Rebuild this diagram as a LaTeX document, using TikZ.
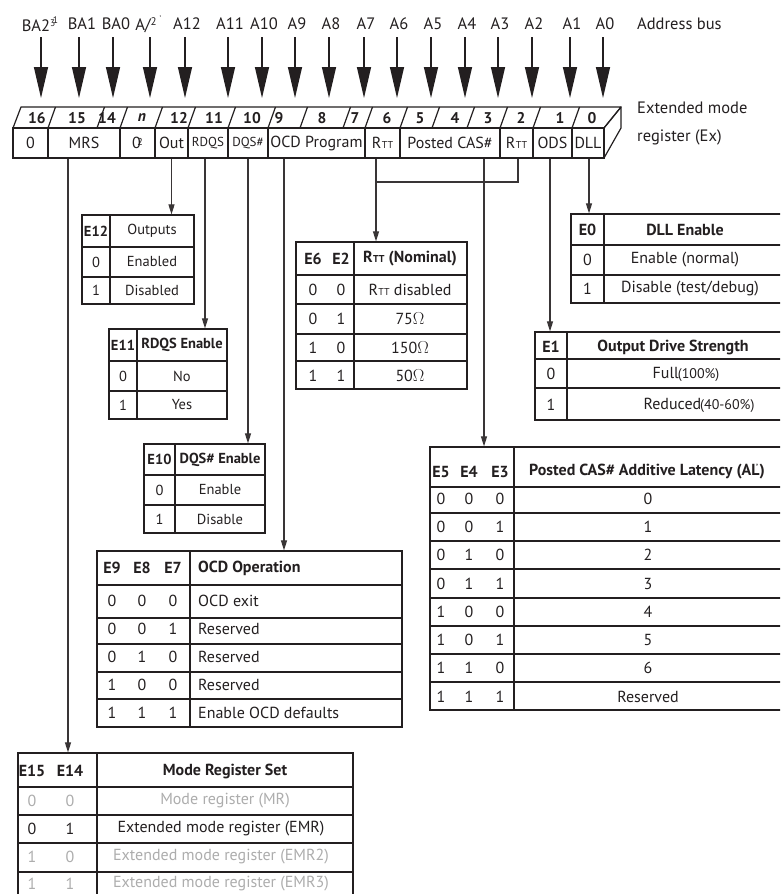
\documentclass[tikz,border=0pt]{standalone}
\usepackage{fontspec}
\setmainfont{PT Sans}
\usetikzlibrary{arrows.meta,fit}
\definecolor{ink}{HTML}{231F20}
\definecolor{pale}{HTML}{ADADAD}
\newcounter{cellno}
\newcommand\fs[1]{\fontsize{#1}{#1}\selectfont}
\newcommand\tx[4][]{\stepcounter{cellno}\node[txt,#1] (cell\arabic{cellno}) at (#2,#3) {#4};}
\newcommand\rtt{R\kern0.3pt{\fs{10}TT}}
\begin{document}
\begin{tikzpicture}[x=1pt,y=-1pt,
 txt/.style={inner sep=0pt, text=ink, anchor=center, font=\fs{14.5}},
 hd/.style={font=\fs{14.5}\bfseries},
 grid/.style={draw=ink, line width=1.1pt},
 tbl/.style={draw=ink, line width=1.2pt, inner sep=0pt},
 bus/.style={draw=ink, line width=1.4pt, -{Triangle[length=31pt,width=14pt]}},
 wire/.style={draw=ink!90, line width=1.1pt},
 feed/.style={wire, -{Triangle[length=10pt,width=6pt]}},
 regline/.style={draw=ink, line width=1.2pt, line join=round},
 reg/.style={draw=ink, line width=1.2pt, minimum height=30pt, inner sep=0pt, anchor=center, text=ink, font=\fs{16}},
 lab/.style={inner sep=0pt, text=ink, font=\fs{16.5}},
 num/.style={inner sep=0pt, text=ink, font=\fs{15.5}\bfseries},
]
\clip (0,0) rectangle (780,894);
\fill[white] (0,0) rectangle (780,894);

% ---------- address bus labels ----------
\coordinate (bustop) at (0,37);
\coordinate (bustip) at (0,98);
\node[lab] (aBA2) at (36,24) {BA2\rlap{\raisebox{5pt}{\fs{9.5}3}\kern-2.5pt\raisebox{8.5pt}{\fs{9.5}1}}};
\node[lab] (aBA1) at (82,24) {BA1};
\node[lab] (aBA0) at (116,24) {BA0};
\node[lab] (aAn) at (143,24) {A/\rlap{\raisebox{5pt}{\fs{11}2}\kern3pt\raisebox{9pt}{\fs{8}'}}};
\node[lab] (aA12) at (187,24) {A12};
\node[lab] (aA11) at (230,24) {A11};
\node[lab] (aA10) at (264,24) {A10};
\node[lab] (aA9) at (297,24) {A9};
\node[lab] (aA8) at (331,24) {A8};
\node[lab] (aA7) at (366,24) {A7};
\node[lab] (aA6) at (399,24) {A6};
\node[lab] (aA5) at (433,24) {A5};
\node[lab] (aA4) at (467,24) {A4};
\node[lab] (aA3) at (500,24) {A3};
\node[lab] (aA2) at (534,24) {A2};
\node[lab] (aA1) at (572,24) {A1};
\node[lab] (aA0) at (605,24) {A0};
\node[lab, anchor=west] (abus) at (637,24) {Address bus};

\draw[bus] ([xshift=5]aBA2 |- bustop) -- ([xshift=5]aBA2 |- bustip);
\draw[bus] ([xshift=-3]aBA1 |- bustop) -- ([xshift=-3]aBA1 |- bustip);
\draw[bus] ([xshift=-3]aBA0 |- bustop) -- ([xshift=-3]aBA0 |- bustip);
\draw[bus] ([xshift=7]aAn |- bustop) -- ([xshift=7]aAn |- bustip);
\foreach \n in {aA12,aA11,aA10,aA9,aA8,aA7,aA6,aA5,aA4,aA3,aA2,aA1,aA0}
  \draw[bus] ([xshift=-2]\n |- bustop) -- ([xshift=-2]\n |- bustip);

% ---------- register (3D box) ----------
\draw[regline] (13,128) -- (21,107) -- (621,107) -- (604,128);
\draw[regline] (604,128) -- (621,107) -- (621,128) -- (604,158);
\foreach \x in {48,97,120,155,188,228,268,300,343,365,400,432,467,500,533,572}
  \draw[regline] (\x,128) -- ++(7.5,-21);
\node[num] (n16) at (37,118) {16};
\node[num] (n15) at (77,118) {15};
\node[num] (n14) at (107,118) {14};
\node[num] (nn) at (142,118) {\itshape n};
\node[num] (n12) at (179,118) {12};
\node[num] (n11) at (214,118) {11};
\node[num] (n10) at (252,118) {10};
\node[num] (n9) at (279,118) {9};
\node[num] (n8) at (322,118) {8};
\node[num] (n7) at (355,118) {7};
\node[num] (n6) at (387,118) {6};
\node[num] (n5) at (420,118) {5};
\node[num] (n4) at (455,118) {4};
\node[num] (n3) at (488,118) {3};
\node[num] (n2) at (521,118) {2};
\node[num] (n1) at (560,118) {1};
\node[num] (n0) at (592,118) {0};

\node[reg, minimum width=35pt] (r16) at (30.5,143) {0};
\node[reg, minimum width=72pt] (rmrs) at (84,143) {MRS};
\node[reg, minimum width=35pt] (rn) at (137.5,143) {0\kern-3.5pt\raisebox{3pt}{\fs{10}2}};
\node[reg, minimum width=33pt] (rout) at (171.5,143) {Out};
\node[reg, minimum width=40pt, font=\fs{13}] (rrdqs) at (208,143) {RDQS};
\node[reg, minimum width=40pt, font=\fs{13}] (rdqs) at (248,143) {DQS\#};
\node[reg, minimum width=97pt] (rocd) at (316.5,143) {OCD Program};
\node[reg, minimum width=35pt] (rrtt6) at (382.5,143) {\rtt};
\node[reg, minimum width=100pt] (rcas) at (450,143) {Posted CAS\#};
\node[reg, minimum width=33pt] (rrtt2) at (516.5,143) {\rtt};
\node[reg, minimum width=39pt] (rods) at (552.5,143) {ODS};
\node[reg, minimum width=32pt] (rdll) at (588,143) {DLL};
\node[lab, anchor=west] (ext1) at (637,108) {Extended mode};
\node[lab, anchor=west] (ext2) at (637,137) {register (Ex)};

% ---------- tables ----------
% E12
\node[tbl, fit={(82,215) (194,304)}] (t12) {};
\draw[grid] (82,247) -- (194,247) (82,277) -- (194,277) (110,215) -- (110,304);
\tx[hd]{96}{231}{E12} \tx{152}{231}{Outputs}
\tx{96}{262}{0} \tx{152}{262}{Enabled}
\tx{96}{290.5}{1} \tx{152}{290.5}{Disabled}

% E11
\node[tbl, fit={(109,329) (227,419)}] (t11) {};
\draw[grid] (109,361) -- (227,361) (109,391) -- (227,391) (137,329) -- (137,419);
\tx[hd]{123}{345}{E11} \tx[hd]{182}{345}{RDQS Enable}
\tx{123}{376}{0} \tx{182}{376}{No}
\tx{123}{405}{1} \tx{182}{405}{Yes}

% E10
\node[tbl, fit={(144,444) (265,533)}] (t10) {};
\draw[grid] (144,475) -- (265,475) (144,505) -- (265,505) (175,444) -- (175,533);
\tx[hd]{159.5}{459.5}{E10} \tx[hd]{220}{459.5}{DQS\# Enable}
\tx{159.5}{490}{0} \tx{220}{490}{Enable}
\tx{159.5}{519}{1} \tx{220}{519}{Disable}

% OCD
\node[tbl, fit={(97,551) (402,727)}] (tocd) {};
\draw[grid] (97,585) -- (402,585) (97,618) -- (402,618) (97,644) -- (402,644)
  (97,672) -- (402,672) (97,699) -- (402,699) (190,551) -- (190,727);
\tx[hd,font=\fs{16}\bfseries]{112}{568}{E9} \tx[hd,font=\fs{16}\bfseries]{142}{568}{E8} \tx[hd,font=\fs{16}\bfseries]{173}{568}{E7}
\tx[hd,anchor=west,font=\fs{16}\bfseries]{198}{568}{OCD Operation}
\tx[font=\fs{16}]{112}{601}{0} \tx[font=\fs{16}]{142}{601}{0} \tx[font=\fs{16}]{173}{601}{0} \tx[anchor=west,font=\fs{16}]{198}{601}{OCD exit}
\tx[font=\fs{16}]{112}{629}{0} \tx[font=\fs{16}]{142}{629}{0} \tx[font=\fs{16}]{173}{629}{1} \tx[anchor=west,font=\fs{16}]{198}{629}{Reserved}
\tx[font=\fs{16}]{112}{657}{0} \tx[font=\fs{16}]{142}{657}{1} \tx[font=\fs{16}]{173}{657}{0} \tx[anchor=west,font=\fs{16}]{198}{657}{Reserved}
\tx[font=\fs{16}]{112}{685}{1} \tx[font=\fs{16}]{142}{685}{0} \tx[font=\fs{16}]{173}{685}{0} \tx[anchor=west,font=\fs{16}]{198}{685}{Reserved}
\tx[font=\fs{16}]{112}{713}{1} \tx[font=\fs{16}]{142}{713}{1} \tx[font=\fs{16}]{173}{713}{1} \tx[anchor=west,font=\fs{16}]{198}{713}{Enable OCD defaults}

% Mode register set
\node[tbl, fit={(18,753) (353,900)}] (tmrs) {};
\draw[grid] (18,787) -- (353,787) (18,815) -- (353,815) (18,843) -- (353,843) (18,872) -- (353,872) (97,753) -- (97,900);
\tx[hd,font=\fs{16}\bfseries]{32}{771}{E15} \tx[hd,font=\fs{16}\bfseries]{70}{771}{E14} \tx[hd,font=\fs{16}\bfseries]{225}{771}{Mode Register Set}
\tx[text=pale,font=\fs{16}]{32}{801}{0} \tx[text=pale,font=\fs{16}]{70}{801}{0} \tx[text=pale,font=\fs{16}]{225}{801}{Mode register (MR)}
\tx[font=\fs{16}]{32}{829}{0} \tx[font=\fs{16}]{70}{829}{1} \tx[font=\fs{16}]{221}{829}{Extended mode register (EMR)}
\tx[text=pale,font=\fs{16}]{32}{857}{1} \tx[text=pale,font=\fs{16}]{70}{857}{0} \tx[text=pale,font=\fs{16}]{221}{857}{Extended mode register (EMR2)}
\tx[text=pale,font=\fs{16}]{32}{883.5}{1} \tx[text=pale,font=\fs{16}]{70}{883.5}{1} \tx[text=pale,font=\fs{16}]{221}{883.5}{Extended mode register (EMR3)}

% RTT
\node[tbl, fit={(296,242) (467,389)}] (trtt) {};
\draw[grid] (296,275) -- (467,275) (296,304) -- (467,304) (296,334) -- (467,334) (296,361) -- (467,361) (354,242) -- (354,389);
\tx[hd,font=\fs{16}\bfseries]{313}{259}{E6} \tx[hd,font=\fs{16}\bfseries]{341}{259}{E2} \tx[hd,font=\fs{16}\bfseries]{410}{259}{\rtt{} (Nominal)}
\tx[font=\fs{16}]{313}{290}{0} \tx[font=\fs{16}]{341}{290}{0} \tx[font=\fs{16}]{410}{290}{\rtt{} disabled}
\tx[font=\fs{16}]{313}{319}{0} \tx[font=\fs{16}]{341}{319}{1} \tx[font=\fs{16}]{410}{319}{75$\Omega$}
\tx[font=\fs{16}]{313}{348}{1} \tx[font=\fs{16}]{341}{348}{0} \tx[font=\fs{16}]{410}{348}{150$\Omega$}
\tx[font=\fs{16}]{313}{376}{1} \tx[font=\fs{16}]{341}{376}{1} \tx[font=\fs{16}]{410}{376}{50$\Omega$}

% E0
\node[tbl, fit={(571,214) (782,303)}] (te0) {};
\draw[grid] (571,245) -- (782,245) (571,275) -- (782,275) (604,214) -- (604,303);
\tx[hd,font=\fs{16}\bfseries]{587.5}{230}{E0} \tx[hd,font=\fs{16}\bfseries]{685}{230}{DLL Enable}
\tx[font=\fs{16}]{587.5}{260}{0} \tx[font=\fs{16}]{685}{260}{Enable (normal)}
\tx[font=\fs{16}]{587.5}{289}{1} \tx[font=\fs{16}]{690}{289}{Disable (test/debug)}

% E1
\node[tbl, fit={(535,332) (782,420)}] (te1) {};
\draw[grid] (535,359) -- (782,359) (535,388) -- (782,388) (567,332) -- (567,420);
\tx[hd,font=\fs{16}\bfseries]{551}{347}{E1} \tx[hd,font=\fs{16}\bfseries]{673}{347}{Output Drive Strength}
\tx[font=\fs{16}]{551}{374}{0} \tx[font=\fs{16}]{686}{374}{Full\kern-1pt{\fs{14}(100\%)}}
\tx[font=\fs{16}]{551}{405}{1} \tx[font=\fs{16}]{699}{405}{Reduced\kern-1pt{\fs{14}(40-60\%)}}

% Posted CAS
\node[tbl, fit={(430,447) (782,710)}] (tcas) {};
\draw[grid] (430,487) -- (782,487) (430,513) -- (782,513) (430,541) -- (782,541)
  (430,569) -- (782,569) (430,598) -- (782,598) (430,626) -- (782,626)
  (430,654) -- (782,654) (430,682) -- (782,682) (514,447) -- (514,710);
\tx[font=\fs{16}\bfseries]{441}{472}{E5} \tx[font=\fs{16}\bfseries]{469}{472}{E4} \tx[font=\fs{16}\bfseries]{500}{472}{E3}
\tx[font=\fs{16}\bfseries]{647}{472}{Posted CAS\# Additive Latency (AL\llap{\raisebox{5pt}{\fs{9}'}\kern1.5pt})}
\foreach \a/\b/\c/\v/\y in {0/0/0/0/499, 0/0/1/1/527, 0/1/0/2/555, 0/1/1/3/584, 1/0/0/4/612, 1/0/1/5/640, 1/1/0/6/668, 1/1/1/Reserved/697}{
  \stepcounter{cellno}\node[txt,font=\fs{16}] (casA\arabic{cellno}) at (441,\y) {\a};
  \node[txt,font=\fs{16}] (casB\arabic{cellno}) at (469,\y) {\b};
  \node[txt,font=\fs{16}] (casC\arabic{cellno}) at (500,\y) {\c};
  \node[txt,font=\fs{16}] (casV\arabic{cellno}) at (648,\y) {\v};
}

% ---------- connectors ----------
\coordinate (rttjoin) at (376,182);
\draw[feed] ([xshift=-16]rmrs.south) -- ([xshift=-16]rmrs.south |- tmrs.north);
\draw[feed] (rout.south) -- (rout.south |- t12.north);
\draw[feed] ([xshift=-3]rrdqs.south) -- ([xshift=-3]rrdqs.south |- t11.north);
\draw[feed] (rdqs.south) -- (rdqs.south |- t10.north);
\draw[feed] ([xshift=-32.5]rocd.south) -- ([xshift=-32.5]rocd.south |- tocd.north);
\draw[feed] ([xshift=-6.5]rrtt6.south) -- ([xshift=-6.5]rrtt6.south |- trtt.north);
\draw[wire] ([xshift=1.5]rrtt2.south) |- (rttjoin);
\draw[feed] ([xshift=34]rcas.south) -- ([xshift=34]rcas.south |- tcas.north);
\draw[feed] ([xshift=-2.5]rods.south) -- ([xshift=-2.5]rods.south |- te1.north);
\draw[feed] ([xshift=1]rdll.south) -- ([xshift=1]rdll.south |- te0.north);
\end{tikzpicture}
\end{document}
